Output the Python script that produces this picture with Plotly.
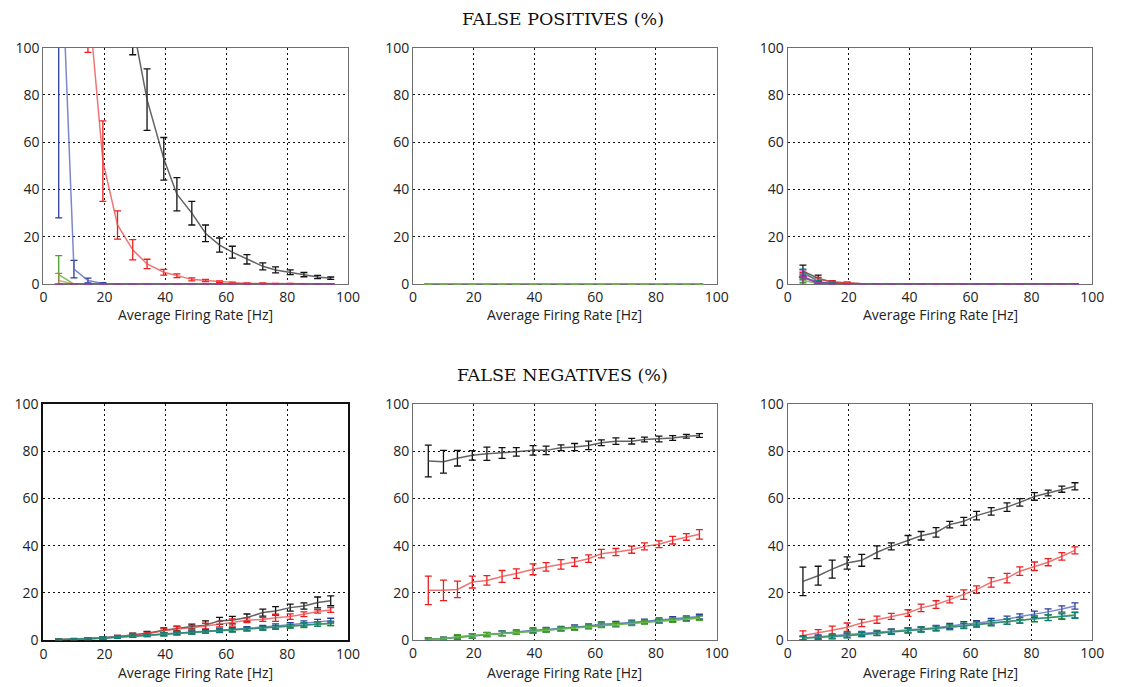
import plotly.graph_objects as go

# Average firing rate of the simulated neurons (Hz)
rates = [5, 10, 14.6, 19.5, 24.3, 29.3, 34, 39.5, 43.8, 48.7,
         53.2, 57.8, 62, 66.8, 72, 76.2, 81, 85.5, 90, 94.3]

# ---------------- False positives (%) ----------------
fp1_black = [400, 300, 230, 170, 140, 110, 78, 53, 38, 30, 21.5, 16.5, 13.5, 10.5, 7.5, 6, 5, 4, 3, 2.5]
fp1_black_err = [30, 25, 20, 15, 12, 13, 13, 9, 7, 5, 3.5, 3, 2.5, 2, 1.5, 1.3, 1, 0.9, 0.7, 0.5]
fp1_red = [400, 250, 123, 52, 25, 14.5, 8.5, 5, 3.5, 2, 1.5, 1, 0.5, 0.3, 0.3, 0.2, 0.2, 0.1, 0.1, 0.1]
fp1_red_err = [40, 30, 25, 17, 6, 4.3, 2, 1.2, 0.8, 0.6, 0.5, 0.4, 0.3, 0.2, 0.2, 0.1, 0.1, 0.1, 0.1, 0.1]
fp1_blue = [170, 6.3, 1.5, 0.3, 0, 0, 0, 0, 0, 0, 0, 0, 0, 0, 0, 0, 0, 0, 0, 0]
fp1_blue_err = [142, 3.7, 1, 0.3, 0, 0, 0, 0, 0, 0, 0, 0, 0, 0, 0, 0, 0, 0, 0, 0]
fp1_green = [4, 0, 0, 0, 0, 0, 0, 0, 0, 0, 0, 0, 0, 0, 0, 0, 0, 0, 0, 0]
fp1_green_err = [8, 0, 0, 0, 0, 0, 0, 0, 0, 0, 0, 0, 0, 0, 0, 0, 0, 0, 0, 0]
fp1_olive = [1.5, 0, 0, 0, 0, 0, 0, 0, 0, 0, 0, 0, 0, 0, 0, 0, 0, 0, 0, 0]
fp1_olive_err = [3, 0, 0, 0, 0, 0, 0, 0, 0, 0, 0, 0, 0, 0, 0, 0, 0, 0, 0, 0]
fp1_purple = [0, 0, 0, 0, 0, 0, 0, 0, 0, 0, 0, 0, 0, 0, 0, 0, 0, 0, 0, 0]
fp1_purple_err = [0, 0, 0, 0, 0, 0, 0, 0, 0, 0, 0, 0, 0, 0, 0, 0, 0, 0, 0, 0]

fp2_all = [0, 0, 0, 0, 0, 0, 0, 0, 0, 0, 0, 0, 0, 0, 0, 0, 0, 0, 0, 0]
fp2_all_err = [0, 0, 0, 0, 0, 0, 0, 0, 0, 0, 0, 0, 0, 0, 0, 0, 0, 0, 0, 0]

fp3_black = [5.5, 2.5, 0.8, 0.4, 0.1, 0, 0, 0, 0, 0, 0, 0, 0, 0, 0, 0, 0, 0, 0, 0]
fp3_black_err = [2.5, 1.3, 0.5, 0.3, 0.1, 0, 0, 0, 0, 0, 0, 0, 0, 0, 0, 0, 0, 0, 0, 0]
fp3_red = [4, 2, 1, 0.5, 0.1, 0, 0, 0, 0, 0, 0, 0, 0, 0, 0, 0, 0, 0, 0, 0]
fp3_red_err = [1, 0.8, 0.4, 0.3, 0.1, 0, 0, 0, 0, 0, 0, 0, 0, 0, 0, 0, 0, 0, 0, 0]
fp3_blue = [2.8, 0.8, 0.2, 0, 0, 0, 0, 0, 0, 0, 0, 0, 0, 0, 0, 0, 0, 0, 0, 0]
fp3_blue_err = [1, 0.5, 0.2, 0, 0, 0, 0, 0, 0, 0, 0, 0, 0, 0, 0, 0, 0, 0, 0, 0]
fp3_green = [1.5, 0.3, 0, 0, 0, 0, 0, 0, 0, 0, 0, 0, 0, 0, 0, 0, 0, 0, 0, 0]
fp3_green_err = [0.8, 0.3, 0, 0, 0, 0, 0, 0, 0, 0, 0, 0, 0, 0, 0, 0, 0, 0, 0, 0]
fp3_teal = [5.3, 1, 0.3, 0, 0, 0, 0, 0, 0, 0, 0, 0, 0, 0, 0, 0, 0, 0, 0, 0]
fp3_teal_err = [1, 0.5, 0.2, 0, 0, 0, 0, 0, 0, 0, 0, 0, 0, 0, 0, 0, 0, 0, 0, 0]
fp3_purple = [3, 0.5, 0, 0, 0, 0, 0, 0, 0, 0, 0, 0, 0, 0, 0, 0, 0, 0, 0, 0]
fp3_purple_err = [3, 0.5, 0, 0, 0, 0, 0, 0, 0, 0, 0, 0, 0, 0, 0, 0, 0, 0, 0, 0]

# ---------------- False negatives (%) ----------------
fn1_black = [0.2, 0.4, 0.6, 1.0, 1.5, 2.3, 3.0, 4.2, 5.0, 5.8, 6.4, 8.2, 8.5, 9.6, 11.7, 12.4, 13.8, 14.5, 16.0, 16.7]
fn1_black_err = [0.3, 0.3, 0.4, 0.5, 0.6, 0.7, 0.7, 1.0, 1.0, 1.0, 1.8, 1.5, 1.6, 1.5, 1.5, 1.8, 1.5, 1.3, 2.3, 2.1]
fn1_red = [0.2, 0.4, 0.6, 1.0, 1.6, 2.3, 2.8, 4.0, 4.8, 5.3, 6.0, 6.8, 7.5, 8.5, 8.8, 9.5, 10.0, 11.0, 12.2, 12.8]
fn1_red_err = [0.3, 0.3, 0.4, 0.5, 0.5, 0.6, 0.6, 0.8, 1.0, 1.0, 1.2, 1.2, 1.5, 1.0, 0.8, 1.5, 1.2, 1.0, 0.7, 1.0]
fn1_blue = [0.2, 0.5, 0.7, 1.0, 1.4, 1.8, 2.2, 2.6, 3.0, 3.4, 3.8, 4.2, 4.5, 5.0, 5.5, 6.0, 6.6, 7.2, 7.8, 8.3]
fn1_blue_err = [0.3, 0.3, 0.4, 0.4, 0.5, 0.5, 0.5, 0.6, 0.6, 0.6, 0.7, 0.7, 0.8, 0.8, 0.8, 0.9, 0.9, 1.0, 1.0, 1.0]
fn1_green = [0.2, 0.4, 0.6, 0.9, 1.3, 1.7, 2.1, 2.5, 2.8, 3.1, 3.5, 3.9, 4.2, 4.6, 5.0, 5.4, 5.8, 6.3, 6.8, 7.0]
fn1_green_err = [0.3, 0.3, 0.4, 0.4, 0.5, 0.5, 0.5, 0.6, 0.6, 0.6, 0.6, 0.7, 0.7, 0.7, 0.8, 0.8, 0.8, 0.9, 0.9, 0.9]
fn1_teal = [0.2, 0.4, 0.6, 0.9, 1.3, 1.7, 2.1, 2.5, 2.9, 3.2, 3.6, 4.0, 4.3, 4.7, 5.1, 5.5, 6.0, 6.5, 6.9, 7.2]
fn1_teal_err = [0.3, 0.3, 0.4, 0.4, 0.5, 0.5, 0.5, 0.6, 0.6, 0.6, 0.6, 0.7, 0.7, 0.7, 0.8, 0.8, 0.8, 0.9, 0.9, 0.9]

fn2_black = [75.8, 75.5, 77.0, 78.2, 78.9, 79.2, 79.7, 80.3, 80.3, 81.4, 81.7, 82.4, 83.5, 84.2, 84.2, 84.9, 85.1, 85.5, 86.3, 86.6]
fn2_black_err = [6.7, 4.8, 3.3, 2.0, 2.8, 2.3, 1.8, 2.0, 1.8, 1.2, 1.5, 1.8, 1.2, 1.4, 1.2, 1.0, 1.2, 1.0, 0.8, 0.8]
fn2_red = [21.1, 21.1, 21.5, 24.6, 25.3, 27.0, 28.2, 30.0, 31.0, 32.1, 33.1, 34.5, 36.6, 37.3, 38.3, 39.7, 40.6, 42.3, 43.7, 44.8]
fn2_red_err = [6.0, 4.3, 3.5, 2.5, 2.0, 2.5, 2.0, 2.3, 1.8, 2.0, 1.8, 1.6, 1.8, 1.5, 1.5, 1.5, 1.4, 1.6, 1.4, 2.0]
fn2_blue = [0.5, 0.7, 1.2, 1.8, 2.5, 3.0, 3.5, 4.2, 4.5, 5.0, 5.5, 6.0, 6.8, 7.0, 7.5, 8.0, 8.5, 9.0, 9.3, 10.0]
fn2_blue_err = [0.5, 0.6, 0.8, 1.0, 0.8, 1.0, 0.9, 1.0, 0.9, 0.9, 1.0, 0.9, 1.0, 1.0, 1.0, 0.9, 1.0, 1.0, 1.0, 1.0]
fn2_teal = [0.4, 0.6, 1.4, 1.8, 2.4, 2.9, 3.3, 3.9, 4.3, 4.8, 5.2, 5.7, 6.4, 6.7, 7.2, 7.7, 8.1, 8.6, 9.0, 9.5]
fn2_teal_err = [0.5, 0.6, 0.9, 0.9, 0.8, 0.9, 0.8, 0.9, 0.8, 0.8, 0.9, 0.8, 0.9, 0.9, 0.9, 0.8, 0.9, 0.9, 0.9, 0.9]
fn2_green = [0.4, 0.6, 1.5, 1.8, 2.4, 2.8, 3.3, 3.9, 4.3, 4.7, 5.2, 5.6, 6.3, 6.6, 7.1, 7.6, 8.0, 8.5, 8.9, 9.3]
fn2_green_err = [0.5, 0.6, 0.9, 0.9, 0.8, 0.9, 0.8, 0.9, 0.8, 0.8, 0.9, 0.8, 0.9, 0.9, 0.9, 0.8, 0.9, 0.9, 0.9, 0.9]

fn3_black = [24.9, 27.3, 30.1, 32.7, 33.8, 37.2, 39.7, 42.3, 44.2, 45.6, 48.9, 50.3, 52.7, 54.5, 56.3, 58.3, 60.8, 62.3, 63.9, 65.1]
fn3_black_err = [6.0, 4.0, 3.8, 2.6, 2.5, 2.7, 1.5, 2.0, 1.8, 2.0, 1.4, 1.7, 1.8, 1.6, 1.8, 1.6, 1.6, 1.2, 1.3, 1.5]
fn3_red = [2.0, 3.0, 4.2, 5.5, 7.3, 8.7, 10.1, 11.5, 13.7, 15.1, 17.2, 19.3, 21.4, 24.5, 26.3, 29.2, 31.3, 33.0, 35.5, 38.0]
fn3_red_err = [2.0, 1.5, 1.8, 1.8, 1.5, 1.5, 1.3, 1.4, 1.6, 1.6, 1.4, 2.0, 1.6, 2.0, 2.0, 1.8, 1.8, 1.5, 1.6, 1.5]
fn3_blue = [1.0, 1.5, 1.8, 2.2, 2.8, 3.2, 3.8, 4.3, 4.8, 5.3, 6.0, 6.8, 7.2, 8.0, 9.0, 10.0, 11.0, 12.0, 13.2, 14.5]
fn3_blue_err = [0.8, 0.8, 0.9, 0.9, 0.9, 1.0, 1.0, 1.0, 1.0, 1.0, 1.1, 1.1, 1.1, 1.2, 1.2, 1.2, 1.3, 1.3, 1.3, 1.3]
fn3_green = [0.8, 1.2, 1.5, 2.0, 2.5, 3.0, 3.6, 4.1, 4.5, 5.0, 5.5, 6.0, 6.6, 7.2, 7.8, 8.4, 9.0, 9.6, 10.3, 10.8]
fn3_green_err = [0.7, 0.8, 0.8, 0.9, 0.9, 0.9, 1.0, 1.0, 1.0, 1.0, 1.0, 1.1, 1.1, 1.1, 1.1, 1.2, 1.2, 1.2, 1.2, 1.2]
fn3_teal = [0.9, 1.2, 1.4, 1.9, 2.4, 2.9, 3.5, 4.0, 4.5, 5.0, 5.5, 6.1, 6.8, 7.3, 7.9, 8.5, 9.1, 9.5, 10.0, 10.5]
fn3_teal_err = [0.7, 0.8, 0.8, 0.9, 0.9, 0.9, 1.0, 1.0, 1.0, 1.0, 1.0, 1.1, 1.1, 1.1, 1.1, 1.2, 1.2, 1.2, 1.2, 1.2]

# colour per series: (line colour, error-bar colour)
COLORS = {
    "black": ("rgba(60,60,60,0.8)", "#111111"),
    "red": ("rgba(235,70,70,0.75)", "#ee1c1c"),
    "blue": ("rgba(90,105,190,0.8)", "#2a3c9c"),
    "green": ("rgba(110,185,70,0.9)", "#4aa02c"),
    "olive": ("rgba(180,160,100,0.8)", "#9a8a40"),
    "teal": ("rgba(30,130,130,0.8)", "#107a7a"),
    "purple": ("rgba(150,60,170,0.85)", "#8a2aa0"),
}

panels = [
    # (row, col, [(colour, values, errors), ...])
    (1, 1, [("black", fp1_black, fp1_black_err), ("red", fp1_red, fp1_red_err),
            ("blue", fp1_blue, fp1_blue_err), ("green", fp1_green, fp1_green_err),
            ("olive", fp1_olive, fp1_olive_err), ("purple", fp1_purple, fp1_purple_err)]),
    (1, 2, [("black", fp2_all, fp2_all_err), ("red", fp2_all, fp2_all_err),
            ("blue", fp2_all, fp2_all_err), ("teal", fp2_all, fp2_all_err),
            ("olive", fp2_all, fp2_all_err), ("green", fp2_all, fp2_all_err)]),
    (1, 3, [("black", fp3_black, fp3_black_err), ("red", fp3_red, fp3_red_err),
            ("blue", fp3_blue, fp3_blue_err), ("green", fp3_green, fp3_green_err),
            ("teal", fp3_teal, fp3_teal_err), ("purple", fp3_purple, fp3_purple_err)]),
    (2, 1, [("black", fn1_black, fn1_black_err), ("red", fn1_red, fn1_red_err),
            ("blue", fn1_blue, fn1_blue_err), ("green", fn1_green, fn1_green_err),
            ("teal", fn1_teal, fn1_teal_err)]),
    (2, 2, [("black", fn2_black, fn2_black_err), ("red", fn2_red, fn2_red_err),
            ("blue", fn2_blue, fn2_blue_err), ("teal", fn2_teal, fn2_teal_err),
            ("green", fn2_green, fn2_green_err)]),
    (2, 3, [("black", fn3_black, fn3_black_err), ("red", fn3_red, fn3_red_err),
            ("blue", fn3_blue, fn3_blue_err), ("green", fn3_green, fn3_green_err),
            ("teal", fn3_teal, fn3_teal_err)]),
]

# series lying on the zero line are drawn unclipped with small tick marks
BASELINE = {(1, "purple"), (2, "green"), (3, "purple")}

W, H = 1122, 687
# panel extents as paper fractions
col_dom = [(0.0357, 0.3111), (0.3699, 0.6444), (0.7086, 0.9840)]
row_dom = [(0.5897, 0.9436), (0.0565, 0.4105)]
xtitle_y = [0.5448, 0.0087]

fig = go.Figure()
layout = {}
sans = "Open Sans, Lato, sans-serif"
serif = "DejaVu Serif, Liberation Serif, serif"
tick_font = dict(family=sans, size=14, color="#222")
annotations = []

for idx, (r, c, series) in enumerate(panels):
    n = idx + 1
    xa = "x" if n == 1 else f"x{n}"
    ya = "y" if n == 1 else f"y{n}"
    bold = (r == 2 and c == 1)
    line_col = "#111" if bold else "#6e6e6e"
    line_w = 2.2 if bold else 1.3
    common = dict(range=[0, 100], tickvals=[0, 20, 40, 60, 80, 100],
                  showgrid=True, gridcolor="#111", griddash="2px,3px", gridwidth=1,
                  showline=True, mirror=True, linecolor=line_col, linewidth=line_w,
                  layer="below traces",
                  zeroline=False, ticks="", tickfont=tick_font, fixedrange=True)
    layout[f"xaxis{'' if n == 1 else n}"] = dict(common, domain=list(col_dom[c - 1]), anchor=ya)
    layout[f"yaxis{'' if n == 1 else n}"] = dict(common, domain=list(row_dom[r - 1]), anchor=xa)
    annotations.append(dict(
        text="Average Firing Rate [Hz]", x=sum(col_dom[c - 1]) / 2, y=xtitle_y[r - 1],
        xref="paper", yref="paper", xanchor="center", yanchor="middle", showarrow=False,
        font=dict(family=sans, size=14, color="#222")))
    for name, vals, errs in series:
        lc, ec = COLORS[name]
        on_base = (n, name) in BASELINE
        fig.add_trace(go.Scatter(
            x=rates, y=vals, mode="lines+markers" if on_base else "lines",
            name=name, showlegend=False,
            line=dict(color=lc, width=2.0 if on_base else 1.5),
            marker=dict(symbol="line-ew-open", size=6, line=dict(color=ec, width=1.6)),
            cliponaxis=not on_base,
            error_y=dict(type="data", array=errs, visible=True,
                         color=ec, thickness=1.3, width=3.5),
            xaxis=xa, yaxis=ya))

annotations += [
    dict(text="FALSE POSITIVES (%)", x=567 / W, y=0.9869, xref="paper", yref="paper",
         xanchor="center", yanchor="middle", showarrow=False,
         font=dict(family=serif, size=17.5, color="#111")),
    dict(text="FALSE NEGATIVES (%)", x=567 / W, y=0.4537, xref="paper", yref="paper",
         xanchor="center", yanchor="middle", showarrow=False,
         font=dict(family=serif, size=17.5, color="#111")),
]

fig.update_layout(**layout)
fig.update_layout(
    width=W, height=H, margin=dict(l=0, r=0, t=0, b=0),
    paper_bgcolor="white", plot_bgcolor="white",
    annotations=annotations,
)

fig.write_html("out.html")
